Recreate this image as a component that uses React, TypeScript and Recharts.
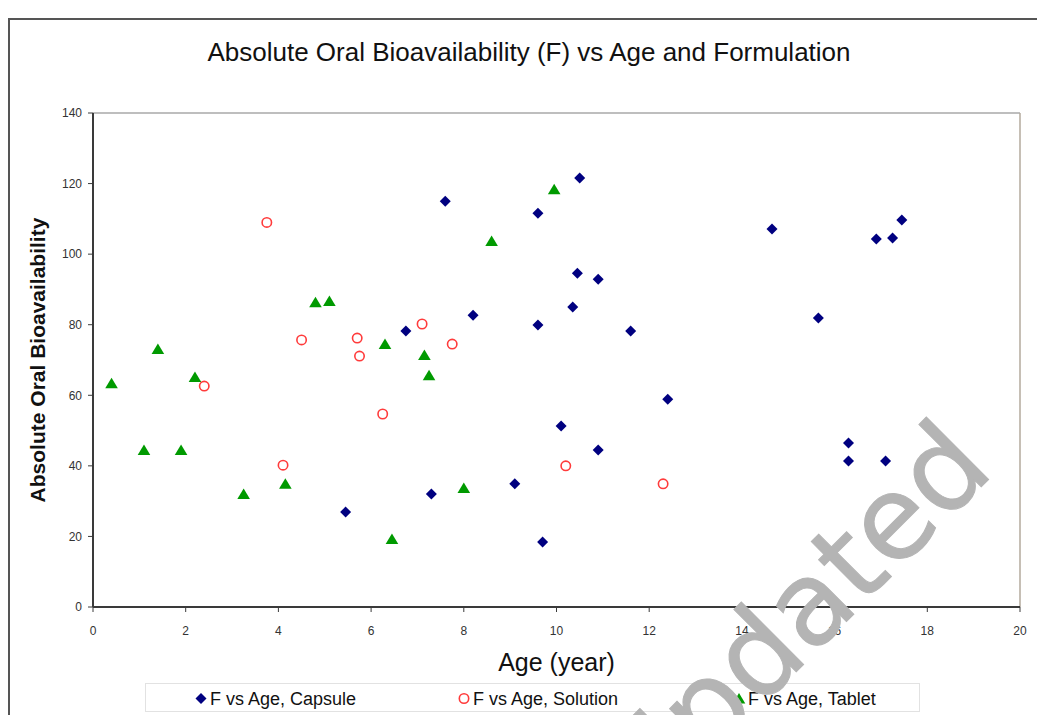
import React from 'react';
import { ScatterChart, Scatter, XAxis, YAxis, ReferenceLine, Legend, Label } from 'recharts';

// values
const capsuleAge = [7.6, 9.6, 10.5, 10.45, 10.9, 10.35, 9.6, 8.2, 6.75, 11.6, 12.4, 10.1, 10.9, 9.1, 7.3, 5.45, 9.7, 14.65, 15.65, 16.9, 17.25, 17.45, 16.3, 16.3, 17.1];
const capsuleF = [115.0, 111.6, 121.6, 94.6, 92.9, 85.0, 79.9, 82.7, 78.2, 78.2, 58.9, 51.3, 44.5, 34.9, 32.0, 26.9, 18.4, 107.1, 81.9, 104.3, 104.6, 109.7, 46.5, 41.4, 41.4];

const solutionAge = [3.75, 4.5, 5.7, 5.75, 7.1, 7.75, 2.4, 4.1, 6.25, 10.2, 12.3];
const solutionF = [109.0, 75.7, 76.2, 71.1, 80.2, 74.5, 62.6, 40.2, 54.7, 40.0, 34.9];

const tabletAge = [0.4, 1.1, 1.4, 1.9, 2.2, 3.25, 4.15, 4.8, 5.1, 6.3, 6.45, 7.15, 7.25, 8.0, 8.6, 9.95];
const tabletF = [63.4, 44.5, 73.1, 44.5, 65.2, 32.0, 34.9, 86.4, 86.7, 74.5, 19.3, 71.4, 65.7, 33.7, 103.7, 118.4];

const seriesNames = ['F vs Age, Capsule', 'F vs Age, Solution', 'F vs Age, Tablet'];
const xTicks = [0, 2, 4, 6, 8, 10, 12, 14, 16, 18, 20];
const yTicks = [0, 20, 40, 60, 80, 100, 120, 140];

const toPoints = (ages: number[], fs: number[]) => ages.map((age, i) => ({ age, f: fs[i] }));
const capsuleData = toPoints(capsuleAge, capsuleF);
const solutionData = toPoints(solutionAge, solutionF);
const tabletData = toPoints(tabletAge, tabletF);

const FONT = '"Liberation Sans", Arial, sans-serif';
const NAVY = '#000080';
const RED = '#ff3b3b';
const GREEN = '#009a00';

const Diamond = ({ cx, cy }: any) => (
  <polygon points={`${cx},${cy - 5.5} ${cx + 5.5},${cy} ${cx},${cy + 5.5} ${cx - 5.5},${cy}`} fill={NAVY} />
);
const Ring = ({ cx, cy }: any) => (
  <circle cx={cx} cy={cy} r={4.7} fill="none" stroke={RED} strokeWidth={1.6} />
);
const Triangle = ({ cx, cy }: any) => (
  <polygon points={`${cx},${cy - 5.5} ${cx + 6.3},${cy + 5} ${cx - 6.3},${cy + 5}`} fill={GREEN} />
);

const markers = [Diamond, Ring, Triangle];
const legendMarkerX = [55, 318, 593];

const renderLegend = (props: any) => {
  const payload = props.payload || [];
  return (
    <svg width={775} height={29} style={{ display: 'block' }}>
      {payload.map((entry: any, i: number) => {
        const M = markers[i % markers.length];
        const x = legendMarkerX[i];
        return (
          <g key={`leg-${i}`}>
            <M cx={x} cy={14.5} />
            <text x={x + 9} y={14.5} dominantBaseline="central" fontFamily={FONT} fontSize={18} fill="#111">
              {entry.value}
            </text>
          </g>
        );
      })}
    </svg>
  );
};

const YLabel = (props: any) => {
  const vb = props.viewBox || { x: 33, y: 113, width: 60, height: 494 };
  const cx = vb.x + 4;
  const cy = vb.y + vb.height / 2;
  return (
    <text x={cx} y={cy} transform={`rotate(-90 ${cx} ${cy})`} textAnchor="middle" dominantBaseline="central"
      fontFamily={FONT} fontSize={21} fontWeight="bold" fill="#111">
      Absolute Oral Bioavailability
    </text>
  );
};

const XLabel = (props: any) => {
  const vb = props.viewBox || { x: 93, y: 607, width: 927, height: 30 };
  const cx = vb.x + vb.width / 2;
  const cy = vb.y + 55;
  return (
    <text x={cx} y={cy} textAnchor="middle" dominantBaseline="central" fontFamily={FONT} fontSize={25} fill="#111">
      Age (year)
    </text>
  );
};

export default function App() {
  const tickStyle = { fontFamily: FONT, fontSize: 12, fill: '#333' };
  return (
    <div style={{ position: 'absolute', left: 0, top: 0, width: 1037, height: 715, overflow: 'hidden', background: '#fff' }}>
      {/* outer chart frame, cut off at right and bottom like the reference */}
      <div style={{ position: 'absolute', left: 8, top: 18, width: 1200, height: 900, border: '2px solid #555', borderRightColor: '#999' }} />

      <div style={{ position: 'absolute', left: 0, top: 0 }}>
        <ScatterChart width={1037} height={715} margin={{ top: 113, right: 17, left: 33, bottom: 78 }}>
          <XAxis
            type="number"
            dataKey="age"
            domain={[0, 20]}
            ticks={xTicks}
            interval={0}
            height={30}
            tickSize={5}
            tickMargin={14}
            tick={tickStyle}
            axisLine={{ stroke: '#3a3a3a', strokeWidth: 2 }}
            tickLine={{ stroke: '#3a3a3a' }}
          >
            <Label content={XLabel} />
          </XAxis>
          <YAxis
            type="number"
            dataKey="f"
            domain={[0, 140]}
            ticks={yTicks}
            interval={0}
            width={60}
            tickSize={5}
            tickMargin={6}
            tick={tickStyle}
            axisLine={{ stroke: '#3a3a3a', strokeWidth: 2 }}
            tickLine={{ stroke: '#3a3a3a' }}
          >
            <Label content={YLabel} />
          </YAxis>
          <ReferenceLine y={140} stroke="#a9a9a9" strokeWidth={1.5} />
          <ReferenceLine x={20} stroke="#b3aa9c" strokeWidth={1.5} />
          <Legend
            layout="vertical"
            verticalAlign="middle"
            align="center"
            content={renderLegend}
            wrapperStyle={{ position: 'absolute', left: 145, top: 683, width: 775, height: 29, border: '1px solid #e2e2e2', boxSizing: 'border-box' }}
          />
          <Scatter name={seriesNames[0]} data={capsuleData} fill={NAVY} legendType="diamond" shape={(p: any) => <Diamond cx={p.cx} cy={p.cy} />} isAnimationActive={false} />
          <Scatter name={seriesNames[1]} data={solutionData} fill={RED} legendType="circle" shape={(p: any) => <Ring cx={p.cx} cy={p.cy} />} isAnimationActive={false} />
          <Scatter name={seriesNames[2]} data={tabletData} fill={GREEN} legendType="triangle" shape={(p: any) => <Triangle cx={p.cx} cy={p.cy} />} isAnimationActive={false} />
        </ScatterChart>
      </div>

      {/* title and the grey stamp drawn over the chart */}
      <svg width={1037} height={715} style={{ position: 'absolute', left: 0, top: 0, pointerEvents: 'none' }}>
        <text x={529} y={52} textAnchor="middle" dominantBaseline="central" fontFamily={FONT} fontSize={26} fill="#111">
          Absolute Oral Bioavailability (F) vs Age and Formulation
        </text>
        <text x={996} y={472} textAnchor="end" transform="rotate(-45 996 472)" fontFamily='"DejaVu Sans", sans-serif' fontSize={116} fill="#b4b4b4" stroke="#b4b4b4" strokeWidth={1}>
          Updated
        </text>
      </svg>
    </div>
  );
}
